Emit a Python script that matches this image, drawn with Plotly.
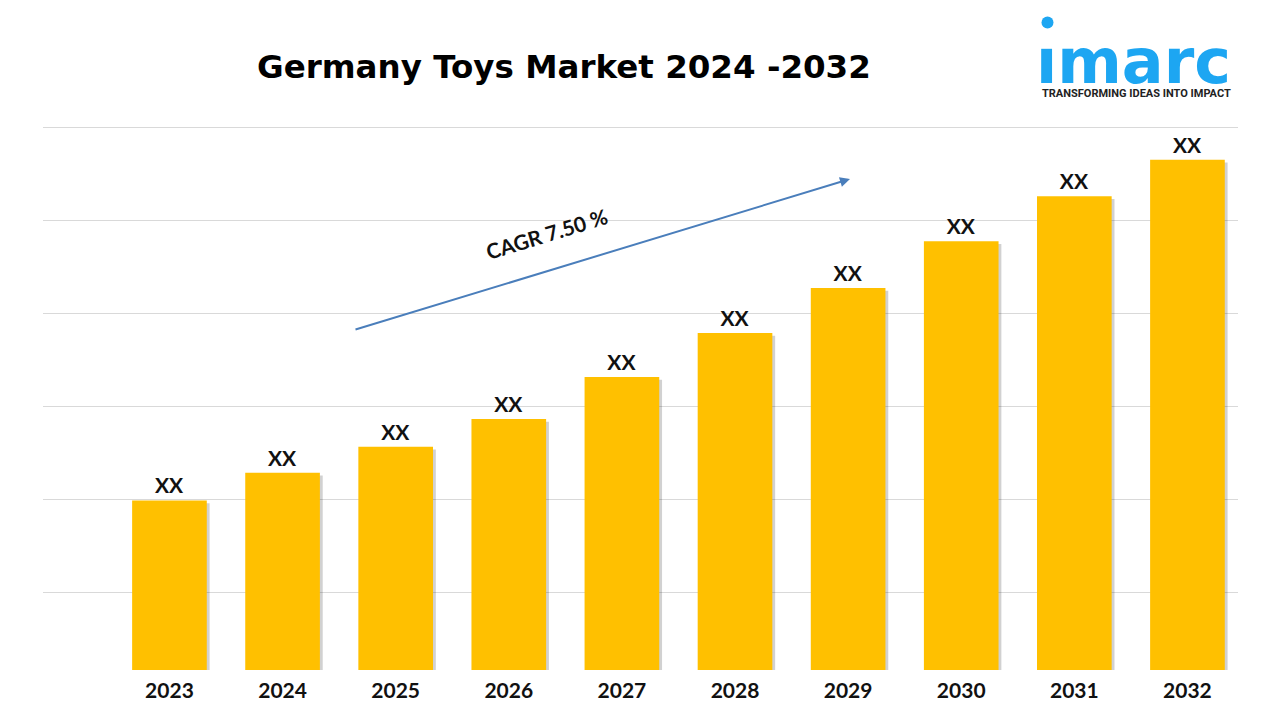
import plotly.graph_objects as go

years = ["2023", "2024", "2025", "2026", "2027", "2028", "2029", "2030", "2031", "2032"]
values = [31.2, 36.3, 41.1, 46.2, 53.9, 62.0, 70.3, 78.9, 87.2, 93.9]
labels = ["XX"] * len(years)
title_text = "Germany Toys Market 2024 -2032"
cagr_text = "CAGR 7.50 %"

W, H = 1280, 720
L, R, T, B = 43, 42, 125, 50
PW, PH = W - L - R, H - T - B


def px_x(x):
    return (x - L) / PW


def px_y(y):
    return (H - B - y) / PH


BAR = "#FFC000"

fig = go.Figure()
fig.add_trace(go.Bar(
    x=years, y=values, width=0.66, offset=-0.33 + 0.025, base=-0.5,
    marker=dict(color="rgba(0,0,0,0.18)", line=dict(width=0)),
    hoverinfo="skip", showlegend=False,
))
fig.add_trace(go.Bar(
    x=years, y=values, width=0.66, offset=-0.33,
    marker=dict(color=BAR, line=dict(width=0)),
    text=labels, textposition="outside", cliponaxis=False,
    constraintext="none",
    textfont=dict(family="Lato", size=21, color="#111111", weight="bold"),
    showlegend=False,
))

fig.update_layout(
    width=W, height=H,
    margin=dict(l=L, r=R, t=T, b=B),
    paper_bgcolor="white", plot_bgcolor="white",
    barmode="overlay",
    xaxis=dict(
        type="category", range=[-1.118, 9.447],
        showgrid=False, zeroline=False, showline=False,
        ticks="outside", ticklen=2, tickcolor="rgba(0,0,0,0)",
        tickfont=dict(family="Lato", size=21, color="#111111", weight="bold"),
    ),
    yaxis=dict(
        range=[0, 100.3], showticklabels=False, zeroline=False, showline=False,
        showgrid=True, gridcolor="#D9D9D9", gridwidth=1,
        tick0=14.31, dtick=17.12,
    ),
    font=dict(family="Lato"),
)

# Title
fig.add_annotation(
    x=px_x(564), y=px_y(67), xref="paper", yref="paper",
    text=title_text, showarrow=False, xanchor="center", yanchor="middle",
    font=dict(family="DejaVu Sans", size=32.5, color="#000000", weight="bold"),
)

# CAGR arrow
fig.add_annotation(
    x=px_x(850), y=px_y(179), xref="paper", yref="paper",
    ax=354 - 850, ay=330 - 179, axref="pixel", ayref="pixel",
    showarrow=True, arrowhead=2, arrowsize=1, arrowwidth=2,
    arrowcolor="#4A7EBB", text="", standoff=0, startstandoff=0,
)
fig.add_annotation(
    x=px_x(547), y=px_y(234), xref="paper", yref="paper",
    text=cagr_text, showarrow=False, textangle=-17,
    xanchor="center", yanchor="middle",
    font=dict(family="Lato", size=21, color="#111111", weight="bold"),
)

# Logo
fig.add_annotation(
    x=px_x(1035), y=px_y(61), xref="paper", yref="paper",
    text="\u0131marc", showarrow=False, xanchor="left", yanchor="middle",
    borderpad=0,
    font=dict(family="DejaVu Sans", size=62, color="#1DA6F2", weight="bold"),
)
fig.add_shape(
    type="circle", xref="paper", yref="paper",
    x0=px_x(1041.5), x1=px_x(1053.5), y0=px_y(16.5), y1=px_y(28.5),
    fillcolor="#1DA6F2", line=dict(width=0),
)
fig.add_annotation(
    x=px_x(1136), y=px_y(93), xref="paper", yref="paper",
    text="TRANSFORMING IDEAS INTO IMPACT", showarrow=False,
    xanchor="center", yanchor="middle", borderpad=0,
    font=dict(family="Roboto", size=11, color="#222222", weight="bold"),
)

fig.write_html(
    "out.html",
    config={"displayModeBar": False},
    post_script="document.body.style.margin='0px';",
)
